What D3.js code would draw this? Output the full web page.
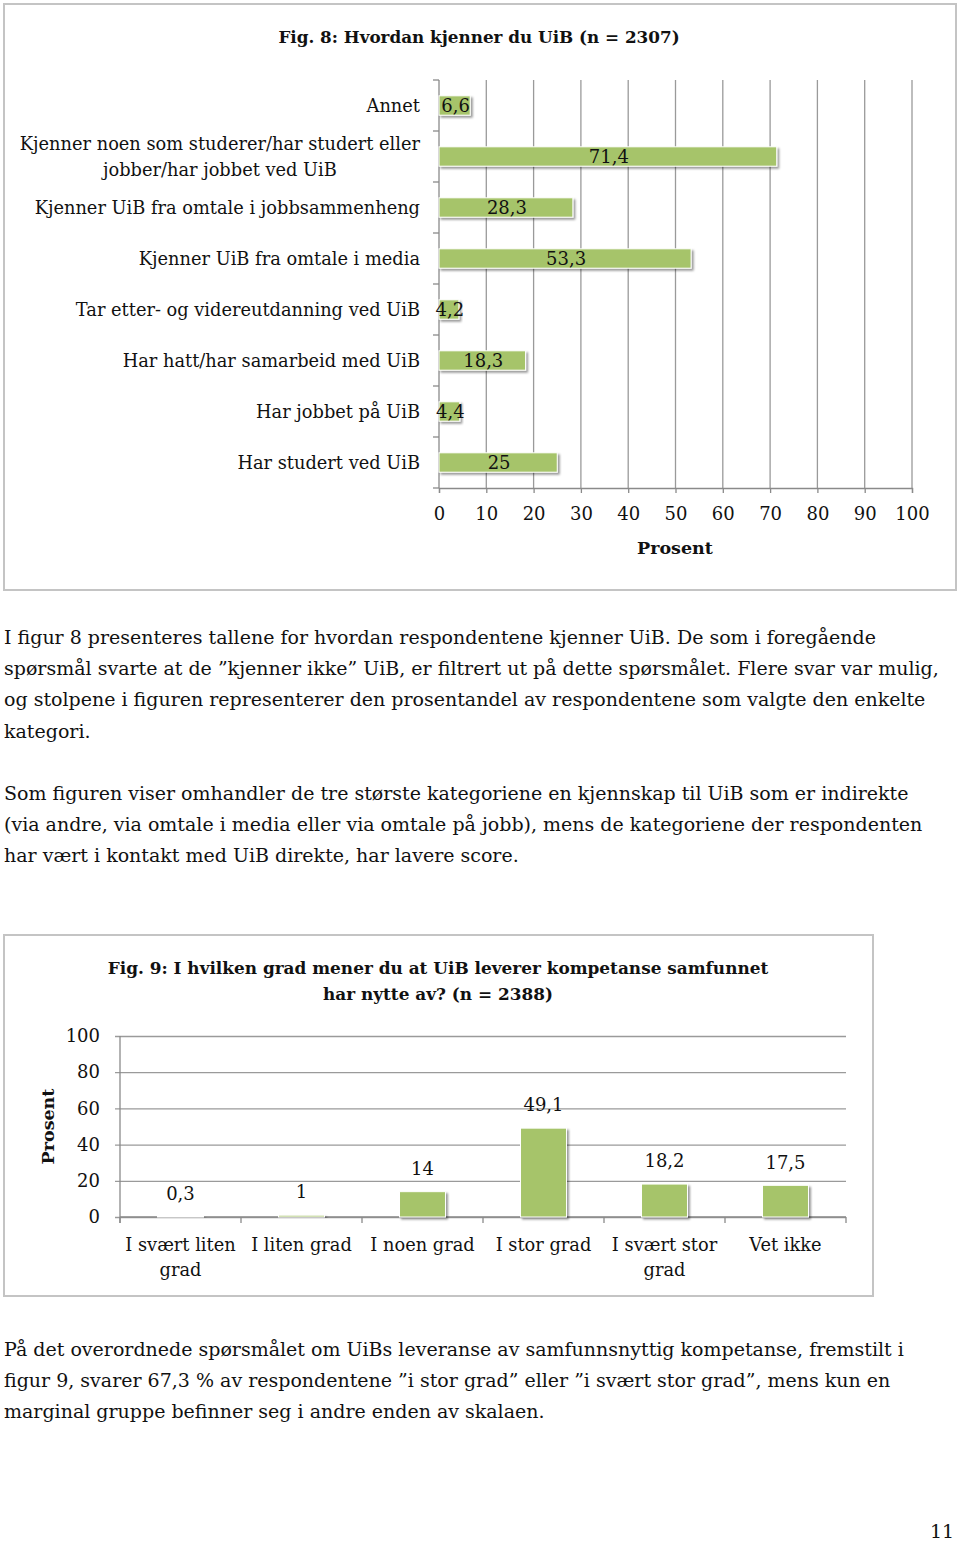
<!DOCTYPE html>
<html>
<head>
<meta charset="utf-8">
<script src="https://cdn.jsdelivr.net/npm/d3@7"></script>
<style>
  body { margin: 0; background: #fff; }
  text { font-family: "DejaVu Serif", serif; fill: #111; }
</style>
</head>
<body>
<div id="page"></div>
<script>
// figure 8 data
var fig8Labels = [
  ["Annet"],
  ["Kjenner noen som studerer/har studert eller", "jobber/har jobbet ved UiB"],
  ["Kjenner UiB fra omtale i jobbsammenheng"],
  ["Kjenner UiB fra omtale i media"],
  ["Tar etter- og videreutdanning ved UiB"],
  ["Har hatt/har samarbeid med UiB"],
  ["Har jobbet på UiB"],
  ["Har studert ved UiB"]
];
var fig8Values = [6.6, 71.4, 28.3, 53.3, 4.2, 18.3, 4.4, 25];
var fig8Ticks = [0, 10, 20, 30, 40, 50, 60, 70, 80, 90, 100];

// figure 9 data
var fig9Labels = [
  ["I svært liten", "grad"],
  ["I liten grad"],
  ["I noen grad"],
  ["I stor grad"],
  ["I svært stor", "grad"],
  ["Vet ikke"]
];
var fig9Values = [0.3, 1, 14, 49.1, 18.2, 17.5];
var fig9Ticks = [0, 20, 40, 60, 80, 100];

// running text
var para1 = [
  "I figur 8 presenteres tallene for hvordan respondentene kjenner UiB. De som i foregående",
  "spørsmål svarte at de ”kjenner ikke” UiB, er filtrert ut på dette spørsmålet. Flere svar var mulig,",
  "og stolpene i figuren representerer den prosentandel av respondentene som valgte den enkelte",
  "kategori."
];
var para2 = [
  "Som figuren viser omhandler de tre største kategoriene en kjennskap til UiB som er indirekte",
  "(via andre, via omtale i media eller via omtale på jobb), mens de kategoriene der respondenten",
  "har vært i kontakt med UiB direkte, har lavere score."
];
var para3 = [
  "På det overordnede spørsmålet om UiBs leveranse av samfunnsnyttig kompetanse, fremstilt i",
  "figur 9, svarer 67,3 % av respondentene ”i stor grad” eller ”i svært stor grad”, mens kun en",
  "marginal gruppe befinner seg i andre enden av skalaen."
];

var fmt = function (v) { return String(v).replace(".", ","); };
var green = "#a6c46b";
var gridColor = "#9a9a9a";
var axisColor = "#8a8a8a";
var labelSize = "17.8px";
var tickSize = "18px";
var textSize = "19px";

var svg = d3.select("#page")
  .append("svg")
  .attr("width", 960)
  .attr("height", 1545);

// drop shadow for the bars
var filter = svg.append("defs").append("filter")
  .attr("id", "shadow")
  .attr("x", "-20%").attr("y", "-30%")
  .attr("width", "140%").attr("height", "170%");
filter.append("feDropShadow")
  .attr("dx", 2).attr("dy", 2)
  .attr("stdDeviation", 1.3)
  .attr("flood-color", "#000")
  .attr("flood-opacity", 0.4);

// ---------------- Fig. 8 ----------------
svg.append("rect")
  .attr("x", 4).attr("y", 4)
  .attr("width", 952).attr("height", 586)
  .attr("fill", "none")
  .attr("stroke", "#c4c4c4")
  .attr("stroke-width", 2);

svg.append("text")
  .attr("x", 479).attr("y", 37)
  .attr("dy", "0.35em")
  .attr("text-anchor", "middle")
  .style("font-weight", "bold")
  .style("font-size", "16.8px")
  .text("Fig. 8: Hvordan kjenner du UiB (n = 2307)");

var x8 = d3.scaleLinear()
  .domain([0, 100])
  .range([439, 912]);

var y8 = d3.scaleBand()
  .domain(d3.range(fig8Values.length))
  .range([80, 488])
  .paddingInner(0.62)
  .paddingOuter(0.31);

// vertical gridlines
svg.append("g")
  .selectAll("line")
  .data(fig8Ticks.slice(1))
  .enter()
  .append("line")
  .attr("x1", function (d) { return x8(d); })
  .attr("x2", function (d) { return x8(d); })
  .attr("y1", y8.range()[0])
  .attr("y2", y8.range()[1])
  .attr("stroke", gridColor)
  .attr("stroke-width", 1.3);

// x axis
var xAxis8 = svg.append("g")
  .attr("transform", "translate(0," + y8.range()[1] + ")")
  .call(d3.axisBottom(x8).tickValues(fig8Ticks).tickSize(5).tickPadding(14).tickFormat(fmt));
xAxis8.select(".domain").attr("stroke", axisColor).attr("stroke-width", 1.3);
xAxis8.selectAll(".tick line").attr("stroke", axisColor).attr("stroke-width", 1.3);
xAxis8.selectAll(".tick text")
  .style("font-family", "DejaVu Serif")
  .style("font-size", tickSize)
  .attr("fill", "#111");

svg.append("text")
  .attr("x", 675).attr("y", 548)
  .attr("dy", "0.35em")
  .attr("text-anchor", "middle")
  .style("font-weight", "bold")
  .style("font-size", "17.5px")
  .text("Prosent");

// y axis line with ticks on band boundaries
var bounds8 = d3.range(fig8Values.length + 1).map(function (i) {
  return y8.range()[0] + i * y8.step();
});
svg.append("line")
  .attr("x1", x8(0)).attr("x2", x8(0))
  .attr("y1", y8.range()[0]).attr("y2", y8.range()[1])
  .attr("stroke", axisColor).attr("stroke-width", 1.3);
svg.append("g")
  .selectAll("line")
  .data(bounds8)
  .enter()
  .append("line")
  .attr("x1", x8(0) - 6).attr("x2", x8(0))
  .attr("y1", function (d) { return d; })
  .attr("y2", function (d) { return d; })
  .attr("stroke", axisColor).attr("stroke-width", 1.3);

// bars
svg.append("g")
  .selectAll("rect")
  .data(fig8Values)
  .enter()
  .append("rect")
  .attr("x", x8(0))
  .attr("y", function (d, i) { return y8(i); })
  .attr("width", function (d) { return x8(d) - x8(0); })
  .attr("height", y8.bandwidth())
  .attr("fill", green)
  .attr("stroke", "#fff")
  .attr("stroke-width", 1)
  .attr("filter", "url(#shadow)");

// value labels in the middle of the bars
svg.append("g")
  .selectAll("text")
  .data(fig8Values)
  .enter()
  .append("text")
  .attr("x", function (d) { return (x8(0) + x8(d)) / 2 + 1; })
  .attr("y", function (d, i) { return y8(i) + y8.bandwidth() / 2; })
  .attr("dy", "0.35em")
  .attr("text-anchor", "middle")
  .style("font-size", tickSize)
  .text(fmt);

// category labels, block right-aligned, lines centred
var labelRight = 420;
fig8Labels.forEach(function (lines, i) {
  var cy = y8(i) + y8.bandwidth() / 2;
  var g = svg.append("g");
  var texts = g.selectAll("text")
    .data(lines)
    .enter()
    .append("text")
    .attr("y", function (d, j) { return cy + (j - (lines.length - 1) / 2) * 26; })
    .attr("dy", "0.35em")
    .attr("text-anchor", "middle")
    .style("font-size", labelSize)
    .text(function (d) { return d; });
  var maxW = d3.max(texts.nodes(), function (n) { return n.getComputedTextLength(); });
  texts.attr("x", labelRight - maxW / 2);
});

// ---------------- paragraphs ----------------
function paragraph(lines, top) {
  svg.append("g")
    .selectAll("text")
    .data(lines)
    .enter()
    .append("text")
    .attr("x", 4)
    .attr("y", function (d, i) { return top + i * 31.3; })
    .attr("dy", "0.35em")
    .style("font-size", textSize)
    .text(function (d) { return d; });
}
paragraph(para1, 637);
paragraph(para2, 793);
paragraph(para3, 1349);

svg.append("text")
  .attr("x", 942).attr("y", 1531)
  .attr("dy", "0.35em")
  .attr("text-anchor", "middle")
  .style("font-size", textSize)
  .text("11");

// ---------------- Fig. 9 ----------------
svg.append("rect")
  .attr("x", 4).attr("y", 935)
  .attr("width", 869).attr("height", 361)
  .attr("fill", "none")
  .attr("stroke", "#c4c4c4")
  .attr("stroke-width", 2);

svg.append("g")
  .selectAll("text")
  .data(["Fig. 9: I hvilken grad mener du at UiB leverer kompetanse samfunnet", "har nytte av? (n = 2388)"])
  .enter()
  .append("text")
  .attr("x", 438)
  .attr("y", function (d, i) { return 968 + i * 26; })
  .attr("dy", "0.35em")
  .attr("text-anchor", "middle")
  .style("font-weight", "bold")
  .style("font-size", "16.9px")
  .text(function (d) { return d; });

var x9 = d3.scaleBand()
  .domain(d3.range(fig9Values.length))
  .range([120, 846])
  .paddingInner(0.62)
  .paddingOuter(0.31);

var y9 = d3.scaleLinear()
  .domain([0, 100])
  .range([1217, 1036]);

// horizontal gridlines + y tick labels
var yAxis9 = svg.append("g")
  .attr("transform", "translate(" + x9.range()[1] + ",0)")
  .call(d3.axisLeft(y9).tickValues(fig9Ticks).tickSize(x9.range()[1] - x9.range()[0] + 5).tickPadding(15));
yAxis9.select(".domain").remove();
yAxis9.selectAll(".tick line").attr("stroke", gridColor).attr("stroke-width", 1.3);
yAxis9.selectAll(".tick text")
  .style("font-family", "DejaVu Serif")
  .style("font-size", tickSize)
  .attr("fill", "#111");

svg.append("text")
  .attr("transform", "translate(48," + ((y9(0) + y9(100)) / 2) + ") rotate(-90)")
  .attr("dy", "0.35em")
  .attr("text-anchor", "middle")
  .style("font-weight", "bold")
  .style("font-size", "17.5px")
  .text("Prosent");

// y axis line
svg.append("line")
  .attr("x1", x9.range()[0]).attr("x2", x9.range()[0])
  .attr("y1", y9(100)).attr("y2", y9(0) + 6)
  .attr("stroke", axisColor).attr("stroke-width", 1.3);

// x axis with ticks between categories
var bounds9 = d3.range(fig9Values.length + 1).map(function (i) {
  return x9.range()[0] + i * x9.step();
});
svg.append("line")
  .attr("x1", x9.range()[0]).attr("x2", x9.range()[1])
  .attr("y1", y9(0)).attr("y2", y9(0))
  .attr("stroke", axisColor).attr("stroke-width", 1.3);
svg.append("g")
  .selectAll("line")
  .data(bounds9)
  .enter()
  .append("line")
  .attr("x1", function (d) { return d; })
  .attr("x2", function (d) { return d; })
  .attr("y1", y9(0)).attr("y2", y9(0) + 6)
  .attr("stroke", axisColor).attr("stroke-width", 1.3);

// bars
svg.append("g")
  .selectAll("rect")
  .data(fig9Values)
  .enter()
  .append("rect")
  .attr("x", function (d, i) { return x9(i); })
  .attr("y", function (d) { return y9(d); })
  .attr("width", x9.bandwidth())
  .attr("height", function (d) { return y9(0) - y9(d); })
  .attr("fill", green)
  .attr("stroke", "#fff")
  .attr("stroke-width", 1)
  .attr("filter", "url(#shadow)");

// value labels above bars
svg.append("g")
  .selectAll("text")
  .data(fig9Values)
  .enter()
  .append("text")
  .attr("x", function (d, i) { return x9(i) + x9.bandwidth() / 2; })
  .attr("y", function (d) { return y9(d) - 23; })
  .attr("dy", "0.35em")
  .attr("text-anchor", "middle")
  .style("font-size", tickSize)
  .text(fmt);

// category labels
fig9Labels.forEach(function (lines, i) {
  svg.append("g")
    .selectAll("text")
    .data(lines)
    .enter()
    .append("text")
    .attr("x", x9(i) + x9.bandwidth() / 2)
    .attr("y", function (d, j) { return 1245 + j * 25; })
    .attr("dy", "0.35em")
    .attr("text-anchor", "middle")
    .style("font-size", labelSize)
    .text(function (d) { return d; });
});
</script>
</body>
</html>
